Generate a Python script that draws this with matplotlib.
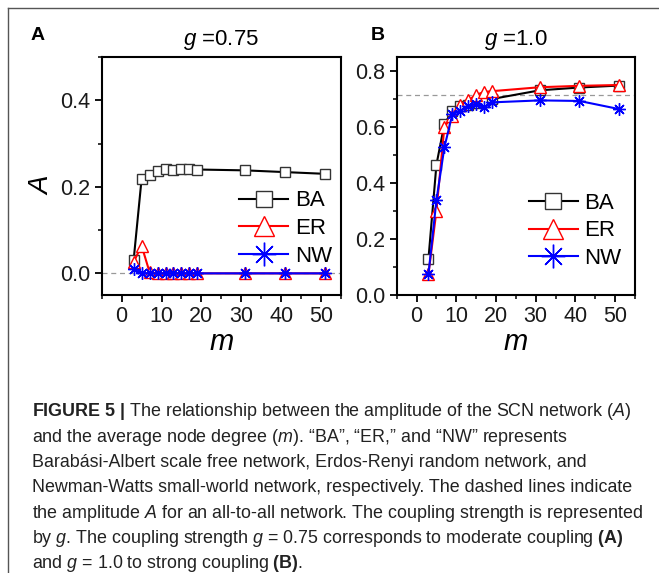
import matplotlib
matplotlib.use("Agg")
import matplotlib.pyplot as plt
from matplotlib import font_manager
from matplotlib.lines import Line2D
from matplotlib.ticker import MultipleLocator

names = {f.name for f in font_manager.fontManager.ttflist}
base = "Liberation Sans" if "Liberation Sans" in names else "DejaVu Sans"
narrow = "Liberation Sans Narrow" if "Liberation Sans Narrow" in names else base
plt.rcParams["font.family"] = [base, "DejaVu Sans"]
plt.rcParams["mathtext.fontset"] = "custom"
plt.rcParams["mathtext.it"] = base + ":italic"
plt.rcParams["mathtext.rm"] = base

# ---- data ----
m = [3, 5, 7, 9, 11, 13, 15, 17, 19, 31, 41, 51]
A_BA = [0.030, 0.218, 0.228, 0.237, 0.242, 0.239, 0.241, 0.242, 0.240, 0.238, 0.234, 0.230]
A_ER = [0.026, 0.064, 0.003, 0.0, 0.0, 0.0, 0.0, 0.0, 0.0, 0.0, 0.0, 0.0]
A_NW = [0.009, 0.001, 0.0, 0.0, 0.0, 0.0, 0.0, 0.0, 0.0, 0.0, 0.0, 0.0]
B_BA = [0.130, 0.465, 0.610, 0.658, 0.675, 0.680, 0.685, 0.690, 0.700, 0.731, 0.741, 0.748]
B_ER = [0.075, 0.300, 0.600, 0.640, 0.680, 0.695, 0.715, 0.725, 0.728, 0.742, 0.747, 0.750]
B_NW = [0.075, 0.338, 0.527, 0.645, 0.658, 0.674, 0.683, 0.670, 0.688, 0.695, 0.693, 0.664]
allA_A = 0.0
allA_B = 0.714
series_labels = ["BA", "ER", "NW"]
titles = ["0.75", "1.0"]
panel_letters = ["A", "B"]
caption_lines = [
    (r"$\bf{FIGURE\ 5\ |}$ The relationship between the amplitude of the SCN network ($A$)"),
    (r"and the average node degree ($m$). “BA”, “ER,” and “NW” represents"),
    (r"Barabási-Albert scale free network, Erdos-Renyi random network, and"),
    (r"Newman-Watts small-world network, respectively. The dashed lines indicate"),
    (r"the amplitude $A$ for an all-to-all network. The coupling strength is represented"),
    (r"by $g$. The coupling strength $g$ = 0.75 corresponds to moderate coupling $\bf{(A)}$"),
    (r"and $g$ = 1.0 to strong coupling $\bf{(B)}$."),
]

W, H = 659, 573
fig = plt.figure(figsize=(W / 100, H / 100), dpi=100)

colors = ["black", "red", "blue"]
markers = ["s", "^", (8, 2, 0)]
msizes = [6.5, 8, 9]
lgsizes = [12, 15, 17]

def px(x0, y0, x1, y1):
    return [x0 / W, 1 - y1 / H, (x1 - x0) / W, (y1 - y0) / H]

axA = fig.add_axes(px(101.7, 57, 341, 295))
axB = fig.add_axes(px(396.7, 57, 635, 295))

for ax, data, ylim, ymaj, dash in [
    (axA, [A_BA, A_ER, A_NW], (-0.05, 0.5), 0.2, allA_A),
    (axB, [B_BA, B_ER, B_NW], (0.0, 0.85), 0.2, allA_B),
]:
    ax.axhline(dash, color="#999999", ls=(0, (4, 3)), lw=0.9, zorder=1)
    for i, ys in enumerate(data):
        ax.plot(m, ys, color=colors[i], lw=1.5, marker=markers[i], ms=msizes[i],
                mfc="none" if i == 2 else "white", mec=colors[i] if i > 0 else "#333333",
                mew=1.0, zorder=3 + i)
    ax.set_xlim(-5, 55)
    ax.set_ylim(*ylim)
    ax.xaxis.set_major_locator(MultipleLocator(10))
    ax.xaxis.set_minor_locator(MultipleLocator(5))
    ax.yaxis.set_major_locator(MultipleLocator(ymaj))
    ax.yaxis.set_minor_locator(MultipleLocator(0.1))
    ax.yaxis.set_major_formatter(matplotlib.ticker.FormatStrFormatter("%.1f"))
    ax.tick_params(which="major", direction="out", length=5, width=1.3, labelsize=15.5, pad=3,
                   labelcolor="#1a1a1a")
    ax.tick_params(which="minor", direction="out", length=3, width=1.1)
    for s in ax.spines.values():
        s.set_linewidth(1.5)
    ax.set_xlabel("$m$", fontsize=21, labelpad=1)
    handles = [Line2D([], [], color=colors[i], lw=1.5, marker=markers[i], ms=lgsizes[i],
                      mfc="none" if i == 2 else "white",
                      mec=colors[i] if i > 0 else "#333333", mew=1.0)
               for i in range(3)]
    if ax is axA:
        anchor = (0.575, 0.44)
    else:
        anchor = (0.555, 0.43)
    ax.legend(handles, series_labels, loc="upper left", bbox_to_anchor=anchor,
              frameon=False, fontsize=16, handlelength=2.2, handletextpad=0.3,
              borderpad=0, borderaxespad=0, labelspacing=0.3)

axA.set_ylabel("$A$", fontsize=20, labelpad=2)
axA.yaxis.set_label_coords(-0.2, 0.465)

for ax, t, letter, lx in [(axA, titles[0], panel_letters[0], 38), (axB, titles[1], panel_letters[1], 378)]:
    ax.set_title("$g$ =" + t, fontsize=16, pad=9)
    fig.text(lx / W, 1 - 35 / H, letter, fontsize=14, fontweight="bold", ha="center", va="center")

# frame lines (top and left)
fig.add_artist(Line2D([8 / W, 1], [1 - 8 / H, 1 - 8 / H], color="#555555", lw=1.0))
fig.add_artist(Line2D([8 / W, 8 / W], [0, 1 - 8 / H], color="#555555", lw=1.0))

plt.rcParams["mathtext.bf"] = narrow + ":bold"
plt.rcParams["mathtext.it"] = narrow + ":italic"
plt.rcParams["mathtext.rm"] = narrow
for i, line in enumerate(caption_lines):
    y = 412 + i * 25.3
    fig.text(32 / W, 1 - y / H, line, fontsize=12.9, family=narrow, color="#222222",
             ha="left", va="center")

fig.savefig("out.png", dpi=100)
